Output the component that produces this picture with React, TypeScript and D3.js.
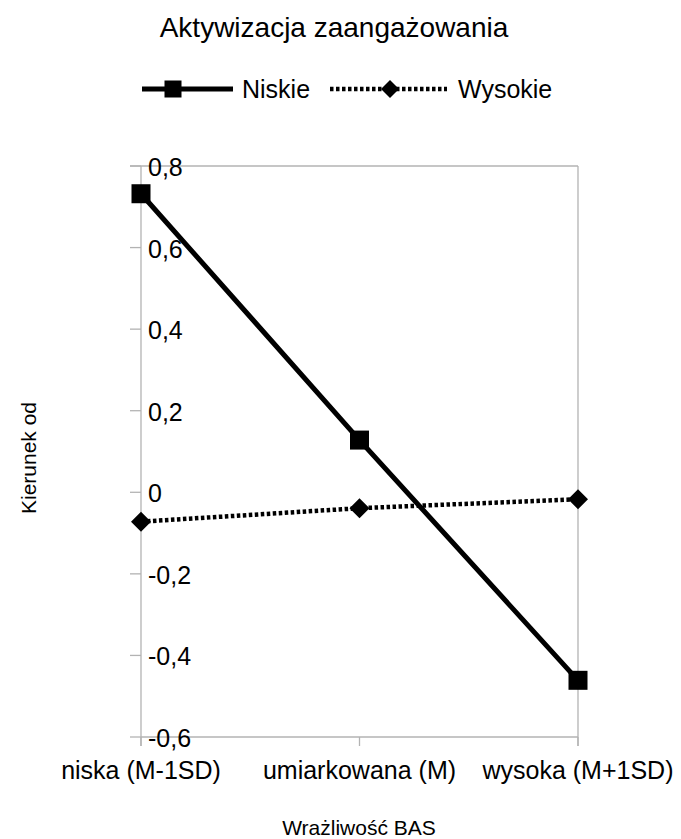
import React from "react";
import * as d3 from "d3";

const categories = ["niska (M-1SD)", "umiarkowana (M)", "wysoka (M+1SD)"];
const niskie = [0.732, 0.128, -0.461];
const wysokie = [-0.072, -0.039, -0.017];
const yTicks = [-0.6, -0.4, -0.2, 0, 0.2, 0.4, 0.6, 0.8];
const title = "Aktywizacja zaangażowania";
const xTitle = "Wrażliwość BAS";
const yTitle = "Kierunek od";
const seriesNames = ["Niskie", "Wysokie"];

const FONT = "'Liberation Sans', Arial, sans-serif";
const GRAY = "#b3b3b3";

export default function App() {
  const W = 681, H = 839;
  const x = d3.scalePoint<string>().domain(categories).range([141, 578]);
  const y = d3.scaleLinear().domain([-0.6, 0.8]).range([737, 166]);
  const line = d3.line<number>().x((_, i) => x(categories[i])!).y((d) => y(d));
  const fmt = (v: number) => (Math.abs(v) < 1e-9 ? "0" : d3.format(".1f")(v).replace(".", ",").replace("−", "-"));
  const x0 = x(categories[0])!, x1 = x(categories[categories.length - 1])!;
  const yTop = y(0.8), yBot = y(-0.6);
  const sq = 19, dm = 10;
  const diamond = (cx: number, cy: number, r: number) => `M${cx},${cy - r}L${cx + r},${cy}L${cx},${cy + r}L${cx - r},${cy}Z`;
  return (
    <svg width={W} height={H} style={{ position: "absolute", left: 0, top: 0, background: "#fff" }} fontFamily={FONT}>
      <rect width={W} height={H} fill="#fff" />
      <text x={334} y={37} fontSize={28} textAnchor="middle">{title}</text>
      {/* legend */}
      <line x1={142} x2={233} y1={89} y2={89} stroke="#000" strokeWidth={5} />
      <rect x={173 - 8.5} y={89 - 8.5} width={17} height={17} fill="#000" />
      <text x={242} y={98} fontSize={25}>{seriesNames[0]}</text>
      <line x1={330} x2={447} y1={89} y2={89} stroke="#000" strokeWidth={4.5} strokeDasharray="3.5 2.5" />
      <path d={diamond(390, 89, 9)} fill="#000" />
      <text x={458} y={98} fontSize={25}>{seriesNames[1]}</text>
      {/* frame lines */}
      <line x1={130} x2={x1} y1={yTop} y2={yTop} stroke={GRAY} strokeWidth={1.3} />
      <line x1={x1} x2={x1} y1={yTop} y2={yBot + 9} stroke={GRAY} strokeWidth={1.3} />
      <line x1={x0} x2={x0} y1={yTop} y2={yBot + 9} stroke={GRAY} strokeWidth={1.3} />
      <line x1={x0} x2={x1} y1={yBot} y2={yBot} stroke={GRAY} strokeWidth={1.3} />
      {yTicks.map((t) => (
        <g key={t}>
          <line x1={130} x2={x0} y1={y(t)} y2={y(t)} stroke={GRAY} strokeWidth={1.3} />
          <text x={148} y={y(t) + 10} fontSize={25}>{fmt(t)}</text>
        </g>
      ))}
      {categories.map((c) => (
        <g key={c}>
          <line x1={x(c)!} x2={x(c)!} y1={yBot} y2={yBot + 9} stroke={GRAY} strokeWidth={1.3} />
          <text x={x(c)!} y={779} fontSize={25} textAnchor="middle">{c}</text>
        </g>
      ))}
      <text x={359} y={835} fontSize={21} textAnchor="middle">{xTitle}</text>
      <text transform={`translate(36,458) rotate(-90)`} fontSize={21} textAnchor="middle">{yTitle}</text>
      {/* series */}
      <path d={line(wysokie)!} fill="none" stroke="#000" strokeWidth={4.5} strokeDasharray="3.5 2.5" />
      {wysokie.map((v, i) => (
        <path key={i} d={diamond(x(categories[i])!, y(v), dm)} fill="#000" />
      ))}
      <path d={line(niskie)!} fill="none" stroke="#000" strokeWidth={5} />
      {niskie.map((v, i) => (
        <rect key={i} x={x(categories[i])! - sq / 2} y={y(v) - sq / 2} width={sq} height={sq} fill="#000" />
      ))}
    </svg>
  );
}
